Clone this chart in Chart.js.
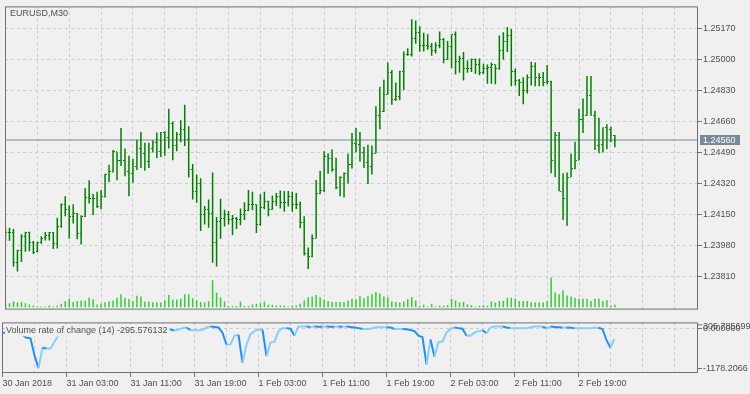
<!DOCTYPE html>
<html lang="en">
<head>
<meta charset="UTF-8" />
<title>EURUSD,M30</title>
<script src="https://cdn.jsdelivr.net/npm/chart.js@4/dist/chart.umd.min.js"></script>
<style>
    body {
        margin: 0;
        background: #f0f0f0;
        width: 750px;
        height: 394px;
        overflow: hidden;
        position: relative;
    }
    #mainChart { position: absolute; left: 0; top: 0; }
    #subChart { position: absolute; left: 0; top: 316px; }
</style>
</head>
<body>

<canvas id="mainChart" width="750" height="316"></canvas>
<canvas id="subChart" width="750" height="78"></canvas>

<script>
    // ---- data (EURUSD M30, 30 Jan 19:00 .. 2 Feb 23:30) ----
    const symbolTitle = 'EURUSD,M30';
    const timeLabels = ['30 Jan 2018', '31 Jan 03:00', '31 Jan 11:00', '31 Jan 19:00', '1 Feb 03:00',
                        '1 Feb 11:00', '1 Feb 19:00', '2 Feb 03:00', '2 Feb 11:00', '2 Feb 19:00'];
    const priceTicks = [1.23810, 1.23980, 1.24150, 1.24320, 1.24490, 1.24660, 1.24830, 1.25000, 1.25170];

    const openP = [
        1.24053,1.24053,1.24053,1.23887,1.23954,1.24030,1.24053,1.23999,1.23947,1.23997,
        1.24023,1.24036,1.24050,1.23993,1.24085,1.24205,1.24180,1.24138,1.24155,1.24046,
        1.24142,1.24244,1.24239,1.24239,1.24195,1.24248,1.24371,1.24389,1.24495,1.24449,
        1.24445,1.24389,1.24375,1.24417,1.24516,1.24488,1.24442,1.24516,1.24545,1.24495,
        1.24604,1.24573,1.24651,1.24530,1.24590,1.24619,1.24562,1.24396,1.24276,1.24322,
        1.24149,1.24180,1.24155,1.24000,1.24112,1.24131,1.24149,1.24124,1.24127,1.24121,
        1.24152,1.24174,1.24208,1.24205,1.24096,1.24187,1.24223,1.24180,1.24223,1.24251,
        1.24216,1.24216,1.24248,1.24208,1.24208,1.24108,1.23935,1.23922,1.24020,1.24267,
        1.24283,1.24470,1.24460,1.24399,1.24301,1.24354,1.24375,1.24428,1.24541,1.24534,
        1.24492,1.24435,1.24414,1.24488,1.24693,1.24714,1.24810,1.24929,1.24781,1.24799,
        1.24937,1.25032,1.25028,1.25117,1.25149,1.25080,1.25078,1.25071,1.25050,1.25081,
        1.25110,1.25004,1.25071,1.25141,1.24993,1.25007,1.24951,1.24951,1.25000,1.24972,
        1.24933,1.24954,1.24958,1.24972,1.24951,1.25053,1.25099,1.25131,1.24937,1.24884,
        1.24873,1.24834,1.24901,1.24965,1.24905,1.24905,1.24876,1.24880,1.24449,1.24583,
        1.24280,1.24237,1.24357,1.24403,1.24449,1.24675,1.24693,1.24806,1.24693,1.24530,
        1.24534,1.24626,1.24619,1.24583
    ];
    const highP = [
        1.24080,1.24078,1.24071,1.23958,1.24043,1.24057,1.24057,1.24006,1.24002,1.24032,
        1.24055,1.24055,1.24055,1.24133,1.24212,1.24251,1.24200,1.24208,1.24160,1.24147,
        1.24297,1.24339,1.24265,1.24276,1.24286,1.24375,1.24424,1.24505,1.24495,1.24626,
        1.24513,1.24474,1.24456,1.24562,1.24604,1.24545,1.24545,1.24558,1.24601,1.24604,
        1.24608,1.24732,1.24661,1.24604,1.24668,1.24753,1.24636,1.24428,1.24371,1.24350,
        1.24198,1.24233,1.24382,1.24138,1.24237,1.24177,1.24170,1.24149,1.24138,1.24184,
        1.24219,1.24286,1.24276,1.24208,1.24262,1.24276,1.24227,1.24255,1.24269,1.24283,
        1.24280,1.24280,1.24276,1.24269,1.24223,1.24142,1.23970,1.24041,1.24341,1.24392,
        1.24498,1.24488,1.24509,1.24463,1.24361,1.24382,1.24484,1.24598,1.24626,1.24604,
        1.24523,1.24534,1.24530,1.24746,1.24852,1.24891,1.24986,1.24944,1.24876,1.24940,
        1.25046,1.25064,1.25223,1.25216,1.25185,1.25149,1.25141,1.25092,1.25096,1.25156,
        1.25120,1.25103,1.25141,1.25156,1.25022,1.25043,1.24997,1.25007,1.25007,1.25007,
        1.24979,1.24975,1.24986,1.24975,1.25134,1.25152,1.25181,1.25170,1.24951,1.24895,
        1.24905,1.24919,1.24990,1.24986,1.24926,1.24933,1.24972,1.24885,1.24604,1.24604,
        1.24378,1.24382,1.24484,1.24551,1.24732,1.24788,1.24912,1.24912,1.24721,1.24682,
        1.24629,1.24647,1.24633,1.24587
    ];
    const lowP = [
        1.24005,1.24007,1.23864,1.23838,1.23891,1.23947,1.23949,1.23935,1.23944,1.23990,
        1.24009,1.24009,1.23962,1.23965,1.24078,1.24142,1.24018,1.24102,1.24016,1.23986,
        1.24138,1.24212,1.24149,1.24187,1.24180,1.24244,1.24329,1.24382,1.24339,1.24417,
        1.24361,1.24251,1.24325,1.24396,1.24407,1.24392,1.24407,1.24492,1.24460,1.24467,
        1.24474,1.24513,1.24449,1.24498,1.24548,1.24527,1.24354,1.24233,1.24216,1.24060,
        1.24096,1.24078,1.23887,1.23866,1.24018,1.24085,1.24096,1.24039,1.24071,1.24092,
        1.24121,1.24170,1.24174,1.24050,1.24090,1.24180,1.24142,1.24177,1.24198,1.24184,
        1.24166,1.24195,1.24166,1.24182,1.24076,1.23926,1.23852,1.23917,1.24020,1.24262,
        1.24275,1.24375,1.24386,1.24290,1.24251,1.24244,1.24322,1.24403,1.24492,1.24442,
        1.24407,1.24318,1.24371,1.24488,1.24619,1.24714,1.24810,1.24753,1.24774,1.24778,
        1.24834,1.25022,1.25018,1.25088,1.25044,1.25046,1.25056,1.25022,1.25035,1.25064,
        1.24982,1.25000,1.24954,1.24919,1.24929,1.24887,1.24929,1.24933,1.24922,1.24916,
        1.24922,1.24869,1.24869,1.24866,1.24945,1.25000,1.25043,1.24855,1.24859,1.24802,
        1.24757,1.24816,1.24859,1.24855,1.24855,1.24855,1.24866,1.24378,1.24357,1.24280,
        1.24121,1.24089,1.24357,1.24399,1.24449,1.24598,1.24693,1.24693,1.24505,1.24488,
        1.24492,1.24509,1.24548,1.24520
    ];
    const closeP = [
        1.24053,1.24053,1.23887,1.23954,1.24030,1.24053,1.23999,1.23944,1.23997,1.24020,
        1.24036,1.24050,1.23993,1.24085,1.24205,1.24180,1.24138,1.24155,1.24046,1.24142,
        1.24244,1.24239,1.24239,1.24195,1.24248,1.24371,1.24389,1.24495,1.24449,1.24445,
        1.24389,1.24375,1.24417,1.24516,1.24488,1.24442,1.24516,1.24545,1.24495,1.24604,
        1.24573,1.24651,1.24530,1.24590,1.24619,1.24562,1.24396,1.24276,1.24322,1.24149,
        1.24180,1.24155,1.24000,1.24112,1.24131,1.24149,1.24124,1.24127,1.24121,1.24152,
        1.24174,1.24208,1.24205,1.24096,1.24187,1.24223,1.24180,1.24223,1.24251,1.24216,
        1.24216,1.24248,1.24208,1.24208,1.24108,1.23935,1.23922,1.24020,1.24267,1.24283,
        1.24470,1.24460,1.24399,1.24301,1.24354,1.24375,1.24428,1.24541,1.24534,1.24492,
        1.24435,1.24414,1.24488,1.24693,1.24714,1.24810,1.24929,1.24781,1.24799,1.24937,
        1.25032,1.25028,1.25117,1.25149,1.25080,1.25078,1.25071,1.25050,1.25081,1.25110,
        1.25004,1.25071,1.25141,1.24993,1.25007,1.24951,1.24951,1.25000,1.24972,1.24933,
        1.24954,1.24958,1.24972,1.24951,1.25053,1.25099,1.25131,1.24937,1.24884,1.24873,
        1.24834,1.24901,1.24965,1.24905,1.24905,1.24876,1.24880,1.24449,1.24583,1.24280,
        1.24237,1.24357,1.24403,1.24449,1.24675,1.24693,1.24806,1.24693,1.24530,1.24534,
        1.24626,1.24619,1.24583,1.24560
    ];
    const tickVolume = [
        120,130,180,150,170,130,90,60,30,30,
        30,60,30,60,110,200,270,170,200,210,
        210,300,250,90,110,160,180,210,300,410,
        300,260,190,360,340,180,180,160,160,150,
        220,380,240,240,270,410,410,280,220,170,
        150,190,840,450,310,180,40,40,40,180,
        40,40,90,110,130,180,80,80,60,60,
        60,30,60,60,110,210,310,340,380,310,
        240,200,170,170,170,170,210,270,250,350,
        280,360,410,480,430,340,310,180,170,150,
        180,250,320,210,50,80,30,110,30,50,
        50,70,270,210,150,170,100,70,30,50,
        70,50,180,150,200,200,300,300,270,200,
        200,200,170,150,150,150,200,930,470,410,
        530,370,340,300,270,270,270,200,270,270,
        200,230,60,80
    ];
    const rocName = 'Volume rate of change (14)';
    const rocValues = [
        -110,-120,-135,-150,-165,-182,-263,-281,-788,-1178.2066,
        -562,-589,-589,-381,-182,-40,30,45,20,15,
        35,50,30,-20,-10,10,20,25,40,60,
        45,30,10,50,45,20,15,10,5,0,
        20,40,-20,-46,-19,26,44,-37,-37,-37,
        -28,44,72,62,44,-110,-472,-463,-200,-173,
        -1015,-472,-155,-64,-19,-19,-815,-408,-381,-64,
        26,26,8,-200,72,72,72,62,72,70,
        68,72,71,69,72,70,72,62,44,26,
        -1,-1,8,44,53,53,53,44,-1,-1,
        -1,-10,-28,-64,-200,-245,-1060,-318,-834,-381,
        -381,-110,8,44,26,8,-200,-200,-110,-64,
        -37,-128,44,72,72,72,44,26,26,26,
        26,26,53,72,72,72,26,72,62,53,
        44,44,35,26,26,26,26,26,35,35,
        -1,-336,-562,-295.576132
    ];
    const rocTickValues = [305.785699, 0, -1178.2066];
    const rocTickLabels = ['305.785699', '0.000000', '-1178.2066'];

    // ---- look ----
    const FONT = { family: '"Liberation Sans", Arial, sans-serif', size: 9 };
    const FONT_CSS = '9px "Liberation Sans", Arial, sans-serif';
    const TEXT = '#4f4f4f';
    const FRAME = '#707070';
    const GRID = '#cccccc';
    const BG = '#f0f0f0';
    const BAR_GREEN = '#008000';
    const VOL_GREEN = '#32cd32';

    const xMin = -0.125, xMax = 173.875;   // 4 px per bar
    const gridStep = 8, labelStep = 16;
    const lastPrice = closeP[closeP.length - 1];

    function xAxisTicks(scale) {
        const t = [];
        for (let v = 0; v <= xMax; v += gridStep) t.push({ value: v });
        scale.ticks = t;
    }
    function timeLabelFor(v) {
        return v % labelStep === 0 ? (timeLabels[v / labelStep] || '') : '';
    }

    // tick marks for open (left) and close (right) of each bar
    function tickImage(side) {
        const c = document.createElement('canvas');
        c.width = 3; c.height = 1;
        const g = c.getContext('2d');
        g.fillStyle = BAR_GREEN;
        g.fillRect(side === 'left' ? 0 : 2, 0, 1, 1);
        return c;
    }

    const hlData = highP.map((h, i) => ({ x: i, y: [lowP[i], h] }));
    const openData = openP.map((o, i) => ({ x: i, y: o }));
    const closeData = closeP.map((c, i) => ({ x: i, y: c }));
    const volData = tickVolume.map((v, i) => ({ x: i, y: v }));
    const rocData = rocValues.map((v, i) => ({ x: i, y: v }));

    const framePlugin = {
        id: 'frame',
        beforeDraw(chart) {
            const { ctx, width, height } = chart;
            ctx.save();
            ctx.fillStyle = BG;
            ctx.fillRect(0, 0, width, height);
            ctx.restore();
        },
        afterDraw(chart) {
            const { ctx, chartArea: a } = chart;
            ctx.save();
            ctx.strokeStyle = FRAME;
            ctx.lineWidth = 1;
            ctx.strokeRect(a.left + 0.5, a.top + 0.5, a.right - a.left - 1, a.bottom - a.top - 1);
            ctx.restore();
        }
    };

    const mainTextPlugin = {
        id: 'mainText',
        afterDraw(chart) {
            const { ctx, chartArea: a } = chart;
            const y = chart.scales.y.getPixelForValue(lastPrice);
            ctx.save();
            ctx.font = FONT_CSS;
            ctx.textBaseline = 'middle';
            ctx.fillStyle = TEXT;
            ctx.fillText(symbolTitle, a.left + 5, a.top + 7.5);
            // current price box on the axis
            ctx.fillStyle = '#778899';
            ctx.fillRect(a.right + 2, Math.round(y) - 5, 40, 10);
            ctx.fillStyle = '#ffffff';
            ctx.fillText(lastPrice.toFixed(5), a.right + 5, y + 0.5);
            ctx.restore();
        }
    };

    const subTextPlugin = {
        id: 'subText',
        afterDatasetsDraw(chart) {
            const { ctx, chartArea: a } = chart;
            const text = rocName + ' ' + rocValues[rocValues.length - 1].toFixed(6);
            ctx.save();
            ctx.font = FONT_CSS;
            ctx.textBaseline = 'middle';
            const w = ctx.measureText(text).width;
            ctx.fillStyle = BG;
            ctx.fillRect(a.left + 3, a.top + 2, w + 3, 12);
            ctx.fillStyle = TEXT;
            ctx.fillText(text, a.left + 4, a.top + 8.5);
            ctx.restore();
        },
        afterDraw(chart) {
            const { ctx, chartArea: a } = chart;
            ctx.save();
            ctx.font = FONT_CSS;
            ctx.textBaseline = 'middle';
            ctx.fillStyle = TEXT;
            ctx.fillText(rocTickLabels[0], a.right + 5, a.top + 4);
            ctx.strokeStyle = FRAME;
            ctx.beginPath();
            ctx.moveTo(a.right, a.top + 2.5);
            ctx.lineTo(a.right + 4, a.top + 2.5);
            ctx.stroke();
            ctx.restore();
        }
    };

    const common = {
        responsive: false,
        devicePixelRatio: 1,
        animation: false,
        events: [],
        plugins: { legend: { display: false }, tooltip: { enabled: false } }
    };

    // ---- main window: bars, volumes, price axis ----
    new Chart(document.getElementById('mainChart'), {
        type: 'scatter',
        data: {
            datasets: [
                { type: 'scatter', data: closeData, pointStyle: tickImage('right'), pointRadius: 1, order: 1 },
                { type: 'scatter', data: openData, pointStyle: tickImage('left'), pointRadius: 1, order: 2 },
                { type: 'bar', data: hlData, yAxisID: 'y', backgroundColor: BAR_GREEN, barThickness: 1.5,
                  grouped: false, inflateAmount: 0, borderWidth: 0, order: 3 },
                { type: 'bar', data: volData, yAxisID: 'yVol', backgroundColor: VOL_GREEN, barThickness: 1.5,
                  grouped: false, inflateAmount: 0, borderWidth: 0, order: 4 },
                { type: 'line', data: [{ x: xMin, y: lastPrice }, { x: xMax, y: lastPrice }], yAxisID: 'y',
                  borderColor: '#778899', borderWidth: 1, pointRadius: 0, order: 5 }
            ]
        },
        options: {
            ...common,
            layout: { padding: { left: 2, top: 2, right: 0, bottom: 0 } },
            scales: {
                x: {
                    type: 'linear', min: xMin, max: xMax, offset: false,
                    afterBuildTicks: xAxisTicks,
                    afterFit: s => { s.height = 0; },
                    ticks: { display: false },
                    grid: { offset: false, drawTicks: false, color: c => c.tick && c.tick.value === 0 ? 'transparent' : GRID },
                    border: { display: false, dash: [3, 3] }
                },
                y: {
                    type: 'linear', position: 'right', min: 1.236292, max: 1.252934,
                    afterBuildTicks: s => { s.ticks = priceTicks.map(v => ({ value: v })); },
                    afterFit: s => { s.width = 52; },
                    ticks: { font: FONT, color: TEXT, padding: 1, autoSkip: false, callback: v => v.toFixed(5) },
                    grid: { color: GRID, tickColor: FRAME, tickLength: 4, tickBorderDash: [1, 0] },
                    border: { display: false, dash: [3, 3] }
                },
                yVol: { type: 'linear', display: false, min: -70, max: 9350 }
            }
        },
        plugins: [framePlugin, mainTextPlugin]
    });

    // ---- indicator sub-window ----
    new Chart(document.getElementById('subChart'), {
        type: 'scatter',
        data: {
            datasets: [{
                type: 'line', data: rocData, borderColor: '#87cefa', borderWidth: 2, pointRadius: 0, tension: 0,
                segment: { borderColor: c => c.p1.parsed.y < c.p0.parsed.y ? '#1e90ff' : '#87cefa' }
            }]
        },
        options: {
            ...common,
            layout: { padding: { left: 2, top: 1, right: 0, bottom: 0 } },
            scales: {
                x: {
                    type: 'linear', min: xMin, max: xMax, offset: false,
                    afterBuildTicks: xAxisTicks,
                    afterFit: s => { s.height = 21; },
                    ticks: { font: FONT, color: TEXT, align: 'start', maxRotation: 0, autoSkip: false, padding: 1,
                             callback: v => timeLabelFor(v) },
                    grid: {
                        offset: false, tickLength: 4, tickBorderDash: [1, 0],
                        color: c => c.tick && c.tick.value === 0 ? 'transparent' : GRID,
                        tickColor: c => c.tick && timeLabelFor(c.tick.value) ? FRAME : 'transparent'
                    },
                    border: { display: false, dash: [3, 3] }
                },
                y: {
                    type: 'linear', position: 'right', min: -1322, max: 198,
                    afterBuildTicks: s => { s.ticks = rocTickValues.slice(1).map(v => ({ value: v })); },
                    afterFit: s => { s.width = 52; },
                    ticks: { font: FONT, color: TEXT, padding: 1, autoSkip: false,
                             callback: v => rocTickLabels[rocTickValues.indexOf(v)] },
                    grid: { tickLength: 4, tickBorderDash: [1, 0], tickColor: FRAME,
                            color: c => c.tick && c.tick.value === 0 ? GRID : 'transparent' },
                    border: { display: false, dash: [3, 3] }
                }
            }
        },
        plugins: [framePlugin, subTextPlugin]
    });
</script>

</body>
</html>
